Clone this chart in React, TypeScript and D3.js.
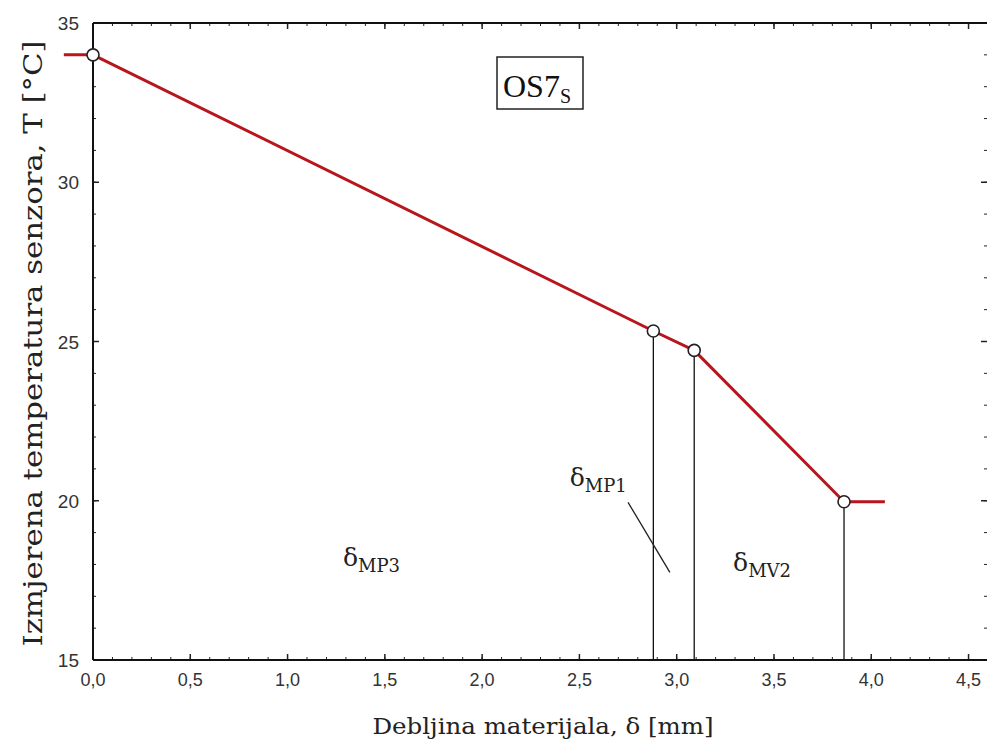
import React from "react";
import * as d3 from "d3";

const lineX = [-0.15, 0, 2.88, 3.09, 3.86, 4.07];
const lineY = [34, 34, 25.33, 24.72, 19.97, 19.97];
const markerIdx = [1, 2, 3, 4];
const xTicks = [0, 0.5, 1, 1.5, 2, 2.5, 3, 3.5, 4, 4.5];
const yTicks = [15, 20, 25, 30, 35];
const annotations = [
  { main: "δ", sub: "MP3", x: 1.285, y: 17.95 },
  { main: "δ", sub: "MP1", x: 2.45, y: 20.45 },
  { main: "δ", sub: "MV2", x: 3.29, y: 17.8 },
];
const leader = { x1: 2.75, y1: 19.95, x2: 2.965, y2: 17.75 };

const W = 987;
const H = 749;
const left = 93;
const right = 988;
const top = 23;
const bottom = 660;

export default function App() {
  const x = d3.scaleLinear().domain([0, 4.6]).range([left, right]);
  const y = d3.scaleLinear().domain([15, 35]).range([bottom, top]);
  const pts = lineX.map((v, i) => [x(v), y(lineY[i])] as [number, number]);
  const path = d3.line()(pts) || "";
  const fmt = (v: number) => v.toFixed(1).replace(".", ",");
  const xMinor = d3.range(0, 4.61, 0.1);
  const yMinor = d3.range(15, 35.01, 1);
  const serif = "'DejaVu Serif', 'Liberation Serif', serif";
  const serif2 = "'Liberation Serif', serif";
  const sans = "'Liberation Sans', Arial, sans-serif";
  return (
    <svg width={W} height={H} style={{ position: "absolute", left: 0, top: 0, background: "#fff" }}>
      <rect x={0} y={0} width={W} height={H} fill="#fff" />
      {xMinor.map((v, i) => (
        <g key={"xm" + i} stroke="#222" strokeWidth={1}>
          <line x1={x(v)} x2={x(v)} y1={bottom} y2={bottom - 3} />
          <line x1={x(v)} x2={x(v)} y1={top} y2={top + 3} />
        </g>
      ))}
      {yMinor.map((v, i) => (
        <g key={"ym" + i} stroke="#222" strokeWidth={1}>
          <line x1={left} x2={left + 3} y1={y(v)} y2={y(v)} />
          <line x1={right} x2={right - 4} y1={y(v)} y2={y(v)} />
        </g>
      ))}
      {xTicks.map((v, i) => (
        <g key={"xt" + i}>
          <line x1={x(v)} x2={x(v)} y1={bottom} y2={bottom - 6} stroke="#222" strokeWidth={1.5} />
          <line x1={x(v)} x2={x(v)} y1={top} y2={top + 6} stroke="#222" strokeWidth={1.5} />
          <text x={x(v)} y={686} textAnchor="middle" fontFamily={sans} fontSize={18} fill="#333">
            {fmt(v)}
          </text>
        </g>
      ))}
      {yTicks.map((v, i) => (
        <g key={"yt" + i}>
          <line x1={left} x2={left + 6} y1={y(v)} y2={y(v)} stroke="#222" strokeWidth={1.5} />
          <line x1={right} x2={right - 7} y1={y(v)} y2={y(v)} stroke="#222" strokeWidth={1.5} />
          <text x={79} y={y(v) + 7} textAnchor="end" fontFamily={sans} fontSize={19} fill="#333">
            {v}
          </text>
        </g>
      ))}
      <line x1={left} x2={right} y1={top} y2={top} stroke="#111" strokeWidth={2} />
      <line x1={left} x2={right} y1={bottom} y2={bottom} stroke="#111" strokeWidth={2} />
      <line x1={left} x2={left} y1={top} y2={bottom} stroke="#111" strokeWidth={2} />
      {markerIdx.slice(1).map((idx) => (
        <line
          key={"v" + idx}
          x1={x(lineX[idx])}
          x2={x(lineX[idx])}
          y1={y(lineY[idx])}
          y2={bottom}
          stroke="#111"
          strokeWidth={1.3}
        />
      ))}
      <line x1={x(leader.x1)} y1={y(leader.y1)} x2={x(leader.x2)} y2={y(leader.y2)} stroke="#222" strokeWidth={1.3} />
      <path d={path} fill="none" stroke="#b8151c" strokeWidth={3} strokeLinejoin="round" />
      {markerIdx.map((idx) => (
        <circle key={"c" + idx} cx={x(lineX[idx])} cy={y(lineY[idx])} r={6} fill="#fff" stroke="#222" strokeWidth={1.6} />
      ))}
      {annotations.map((a, i) => (
        <text key={"a" + i} x={x(a.x)} y={y(a.y)} fontFamily={serif} fontSize={25} fill="#222">
          {a.main}
          <tspan fontSize={18} dy={6}>
            {a.sub}
          </tspan>
        </text>
      ))}
      <rect x={497} y={57} width={86} height={52} fill="#fff" stroke="#222" strokeWidth={1.5} />
      <text x={503} y={97} fontFamily={serif2} fontSize={32} fill="#111">
        OS7
        <tspan fontSize={20} dy={6}>
          S
        </tspan>
      </text>
      <text x={543} y={734} textAnchor="middle" fontFamily={serif} fontSize={23} fill="#222" textLength={341} lengthAdjust="spacingAndGlyphs">
        Debljina materijala, δ [mm]
      </text>
      <text
        transform={`translate(42, ${(top + bottom) / 2 + 2}) rotate(-90)`}
        textAnchor="middle"
        fontFamily={serif}
        fontSize={26}
        fill="#222"
        textLength={606}
        lengthAdjust="spacingAndGlyphs"
      >
        Izmjerena temperatura senzora, T [°C]
      </text>
    </svg>
  );
}
